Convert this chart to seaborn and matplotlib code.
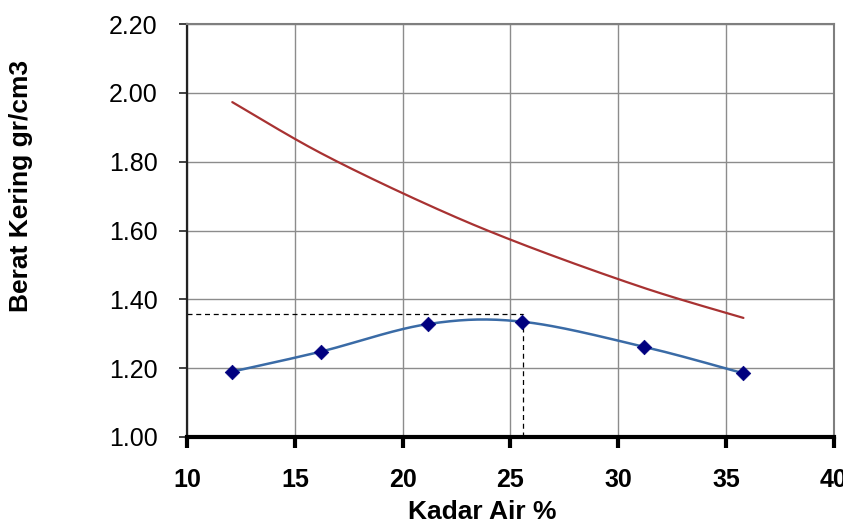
import numpy as np
import pandas as pd
import matplotlib
matplotlib.use("Agg")
import matplotlib.pyplot as plt
import seaborn as sns

# ---- data ----
kadar_air = [12.1, 16.2, 21.16, 25.55, 31.2, 35.8]          # water content %
berat_kering = [1.19, 1.248, 1.328, 1.335, 1.262, 1.185]     # dry density gr/cm3
zav_kering = [1.973, 1.825, 1.675, 1.560, 1.433, 1.346]      # zero-air-void line
w_optimum = 25.56
gd_maks = 1.357

x_ticks = [10, 15, 20, 25, 30, 35, 40]
y_ticks = [1.00, 1.20, 1.40, 1.60, 1.80, 2.00, 2.20]
x_label = "Kadar Air %"
y_label = "Berat Kering gr/cm3"


def smooth(xs, ys, n=40):
    """Excel-style smoothed line (uniform Catmull-Rom / Bezier)."""
    P = np.column_stack([xs, ys]).astype(float)
    ext = np.vstack([P[0], P, P[-1]])
    out = []
    t = np.linspace(0, 1, n)[:, None]
    for i in range(1, len(ext) - 2):
        p0, p1, p2, p3 = ext[i - 1], ext[i], ext[i + 1], ext[i + 2]
        c1 = p1 + (p2 - p0) / 6.0
        c2 = p2 - (p3 - p1) / 6.0
        seg = ((1 - t) ** 3) * p1 + 3 * ((1 - t) ** 2) * t * c1 + 3 * (1 - t) * t ** 2 * c2 + t ** 3 * p2
        out.append(seg if i == 1 else seg[1:])
    out = np.vstack(out)
    return out[:, 0], out[:, 1]


sns.set_theme(style="white")
plt.rcParams['font.family'] = ['Liberation Sans', 'DejaVu Sans']
plt.rcParams['text.color'] = 'black'
plt.rcParams['axes.labelcolor'] = 'black'
plt.rcParams['xtick.color'] = 'black'
plt.rcParams['ytick.color'] = 'black'
narrow = ['Liberation Sans Narrow', 'Liberation Sans', 'DejaVu Sans']

fig = plt.figure(figsize=(8.43, 5.25), dpi=100)
ax = fig.add_axes([187 / 843, 88 / 525, 647 / 843, 413 / 525])

blue = "#3A6BA6"
red = "#A83232"

sx, sy = smooth(kadar_air, berat_kering)
df_blue = pd.DataFrame({"x": sx, "y": sy})
sns.lineplot(data=df_blue, x="x", y="y", sort=False, estimator=None,
             color=blue, linewidth=1.8, ax=ax, zorder=3)

rx, ry = smooth(kadar_air, zav_kering)
df_red = pd.DataFrame({"x": rx, "y": ry})
sns.lineplot(data=df_red, x="x", y="y", sort=False, estimator=None,
             color=red, linewidth=1.6, ax=ax, zorder=3)

df_pts = pd.DataFrame({"x": kadar_air, "y": berat_kering})
sns.scatterplot(data=df_pts, x="x", y="y", marker="D", s=55, color="#00007F",
                edgecolor="#00007F", linewidth=0.5, ax=ax, zorder=4)

# optimum dashed guides
ax.plot([x_ticks[0], w_optimum], [gd_maks, gd_maks], color="black", lw=0.9,
        ls=(0, (4, 3)), zorder=2)
ax.plot([w_optimum, w_optimum], [y_ticks[0], gd_maks], color="black", lw=0.9,
        ls=(0, (4, 3)), zorder=2)

ax.set_xlim(x_ticks[0], x_ticks[-1])
ax.set_ylim(y_ticks[0], y_ticks[-1])
ax.set_xticks(x_ticks)
ax.set_yticks(y_ticks)
ax.set_xticklabels([str(v) for v in x_ticks], fontweight="bold", fontsize=18, family=narrow)
ax.set_yticklabels([f"{v:.2f}" for v in y_ticks], fontsize=18, family=narrow)

ax.grid(True, color="#8C8C8C", linewidth=1.0)
ax.set_axisbelow(True)

for s in ["top", "right"]:
    ax.spines[s].set_color("#7F7F7F")
    ax.spines[s].set_linewidth(1.5)
ax.spines["left"].set_color("#222222")
ax.spines["left"].set_linewidth(1.6)
ax.spines["bottom"].set_color("black")
ax.spines["bottom"].set_linewidth(3.0)

ax.tick_params(axis="y", direction="out", length=6, width=1.2, color="#222222", pad=15, left=True)
ax.tick_params(axis="x", direction="out", length=8, width=3.0, color="black", pad=14, bottom=True)

ax.set_xlabel(x_label, fontweight="bold", fontsize=19, family=narrow)
ax.set_ylabel(y_label, fontweight="bold", fontsize=19)
ax.xaxis.set_label_coords(0.456, -0.152)
ax.yaxis.set_label_coords(-0.238, 0.608)

fig.savefig("out.png", dpi=100)
